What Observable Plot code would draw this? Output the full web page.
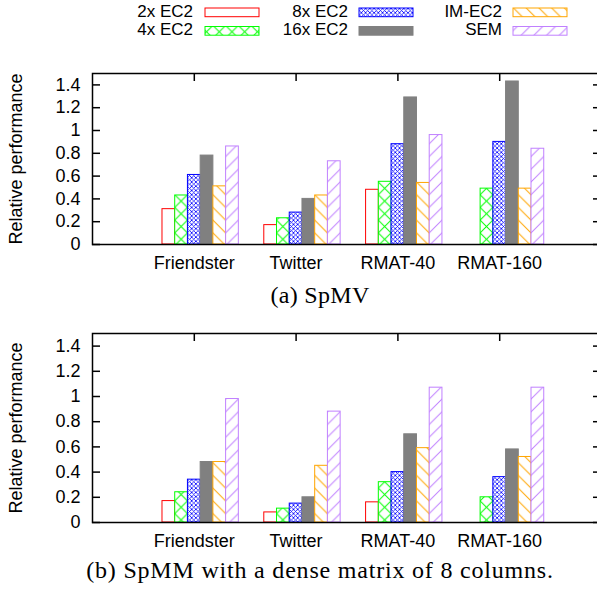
<!DOCTYPE html>
<html><head><meta charset="utf-8">
<script src="https://cdn.jsdelivr.net/npm/d3@7"></script>
<script src="https://cdn.jsdelivr.net/npm/@observablehq/plot@0.6"></script>
<style>
html,body{margin:0;padding:0;background:#fff;}
#root{position:relative;width:597px;height:592px;overflow:hidden;background:#fff;}
.blk{position:absolute;left:0;width:610px;}
.blk svg{max-width:none !important;}
.cap{position:absolute;font-family:"Liberation Serif","Times New Roman",serif;font-size:24px;line-height:24px;text-align:center;white-space:nowrap;color:#000;}
</style></head><body><div id="root"></div>
<script>
// ---------- data ----------
const categories = ["Friendster", "Twitter", "RMAT-40", "RMAT-160"];
const seriesNames = ["2x EC2", "4x EC2", "8x EC2", "16x EC2", "IM-EC2", "SEM"];
// (a) SpMV
const spmv2x  = [0.31, 0.17, 0.48, null];
const spmv4x  = [0.43, 0.23, 0.55, 0.49];
const spmv8x  = [0.61, 0.28, 0.88, 0.90];
const spmv16x = [0.78, 0.40, 1.29, 1.43];
const spmvIM  = [0.51, 0.43, 0.54, 0.49];
const spmvSEM = [0.86, 0.73, 0.96, 0.84];
// (b) SpMM, dense matrix of 8 columns
const spmm2x  = [0.17, 0.08, 0.16, null];
const spmm4x  = [0.24, 0.11, 0.32, 0.20];
const spmm8x  = [0.34, 0.15, 0.40, 0.36];
const spmm16x = [0.48, 0.20, 0.70, 0.58];
const spmmIM  = [0.48, 0.45, 0.59, 0.52];
const spmmSEM = [0.98, 0.88, 1.07, 1.07];
const yTicks = [0, 0.2, 0.4, 0.6, 0.8, 1, 1.2, 1.4];
const yLabel = "Relative performance";
const captionA = "(a) SpMV";
const captionB = "(b) SpMM with a dense matrix of 8 columns.";

// ---------- styles ----------
const strokes = ["#ff0000", "#00ff00", "#0000ff", "#808080", "#ffa500", "#c080ff"];
const fills = ["none", "url(#pCross)", "url(#pDense)", "#808080", "url(#pBack)", "url(#pFwd)"];
const SANS = "'Liberation Sans', Arial, Helvetica, sans-serif";
const nS = seriesNames.length, gap = 2, bw = 1 / (nS + gap);

function table(seriesArrays) {
  const rows = [];
  seriesArrays.forEach((arr, si) => arr.forEach((v, ci) => {
    if (v == null) return;
    const x1 = ci - 2.5 * bw + si * bw;
    rows.push({series: seriesNames[si], si, category: categories[ci], x1, x2: x1 + bw, value: v});
  }));
  return rows;
}

function chart(seriesArrays, height, mTop, mBottom) {
  const rows = table(seriesArrays);
  const fmt = d => String(+d.toFixed(1));
  const svg = Plot.plot({
    width: 610, height, marginLeft: 92, marginRight: 9, marginTop: mTop, marginBottom: mBottom,
    x: {domain: [-1, 4], axis: null},
    y: {domain: [0, 1.5], axis: null},
    style: {fontFamily: SANS, fontSize: "18px", color: "#000", background: "#fff", maxWidth: "none"},
    marks: [
      ...seriesNames.map((s, si) => Plot.rect(rows.filter(r => r.si === si), {
        x1: "x1", x2: "x2", y1: () => 0, y2: "value",
        fill: fills[si], stroke: strokes[si], strokeWidth: 1
      })),
      Plot.axisY({anchor: "left", ticks: yTicks, tickSize: 0, tickPadding: 12, tickFormat: fmt, label: null, fontSize: 18}),
      Plot.axisY({anchor: "left", ticks: yTicks, tickSize: 8, dx: 8, tickFormat: () => "", label: null, strokeWidth: 1.5}),
      Plot.axisY({anchor: "right", ticks: yTicks, tickSize: 9, dx: -9, tickFormat: () => "", label: null, strokeWidth: 1.5}),
      Plot.axisX({anchor: "top", ticks: [0, 1, 2, 3], tickSize: 7, dy: 7, tickFormat: () => "", label: null, strokeWidth: 1.5}),
      Plot.axisX({anchor: "bottom", ticks: [0, 1, 2, 3], tickSize: 0, tickPadding: 12, tickFormat: i => categories[i], label: null, fontSize: 18}),
      Plot.text([yLabel], {frameAnchor: "left", textAnchor: "middle", rotate: -90, dx: -76, text: d => d, fontSize: 18}),
      Plot.frame({stroke: "#000", strokeWidth: 1.5})
    ]
  });
  svg.style.maxWidth = "none";
  svg.setAttribute("width", 610);
  return svg;
}

const root = document.getElementById("root");
const p1 = chart([spmv2x, spmv4x, spmv8x, spmv16x, spmvIM, spmvSEM], 240, 31, 38);
const p2 = chart([spmm2x, spmm4x, spmm8x, spmm16x, spmmIM, spmmSEM], 248, 23, 36);

// ---------- pattern defs (sized from the x scale) ----------
const xs = p1.scale("x");
const w = xs.apply(bw) - xs.apply(0);
const ox = xs.apply(-2.5 * bw);
const defsSvg = d3.create("svg").attr("width", 0).attr("height", 0).style("position", "absolute");
const defs = defsSvg.append("defs");
function pat(id, size, color, paths, sw) {
  const p = defs.append("pattern").attr("id", id).attr("patternUnits", "userSpaceOnUse")
    .attr("x", ox).attr("y", 0).attr("width", size).attr("height", size);
  p.append("rect").attr("width", size).attr("height", size).attr("fill", "#fff");
  paths.forEach(dp => p.append("path").attr("d", dp).attr("stroke", color).attr("stroke-width", sw).attr("fill", "none"));
}
const back = s => `M-1,-1L${s + 1},${s + 1}M${s - 1},-1L${s + 1},1M-1,${s - 1}L1,${s + 1}`;
const fwd = s => `M-1,${s + 1}L${s + 1},-1M-1,1L1,-1M${s - 1},${s + 1}L${s + 1},${s - 1}`;
pat("pCross", w, strokes[1], [back(w), fwd(w)], 1);
pat("pDense", w / 3, strokes[2], [back(w / 3), fwd(w / 3)], 0.8);
pat("pBack", w, strokes[4], [back(w)], 1);
pat("pFwd", w, strokes[5], [fwd(w)], 1);
root.appendChild(defsSvg.node());

// ---------- legend ----------
const lg = d3.create("svg").attr("width", 597).attr("height", 42)
  .attr("font-family", SANS).attr("font-size", 17).style("position", "absolute").style("left", 0).style("top", 0);
const colText = [193, 348, 502], colBox = [205, 359, 513], rowBase = [17, 35], rowBox = [8, 26.5];
seriesNames.forEach((s, i) => {
  const col = Math.floor(i / 2), row = i % 2;
  lg.append("text").attr("x", colText[col]).attr("y", rowBase[row]).attr("text-anchor", "end").text(s);
  lg.append("rect").attr("x", colBox[col]).attr("y", rowBox[row]).attr("width", 54).attr("height", 8.7)
    .attr("fill", fills[i]).attr("stroke", strokes[i]).attr("stroke-width", 1);
});
root.appendChild(lg.node());

function place(node, top) {
  const d = document.createElement("div");
  d.className = "blk"; d.style.top = top + "px";
  d.appendChild(node); root.appendChild(d);
}
place(p1, 42);
place(p2, 310);

function caption(text, top, spacing) {
  const c = document.createElement("div");
  c.className = "cap"; c.style.left = "20px"; c.style.width = "600px"; c.style.top = top + "px";
  c.style.letterSpacing = spacing + "px";
  c.textContent = text; root.appendChild(c);
}
caption(captionA, 283, 0.3);
caption(captionB, 558, 0.8);
</script></body></html>
